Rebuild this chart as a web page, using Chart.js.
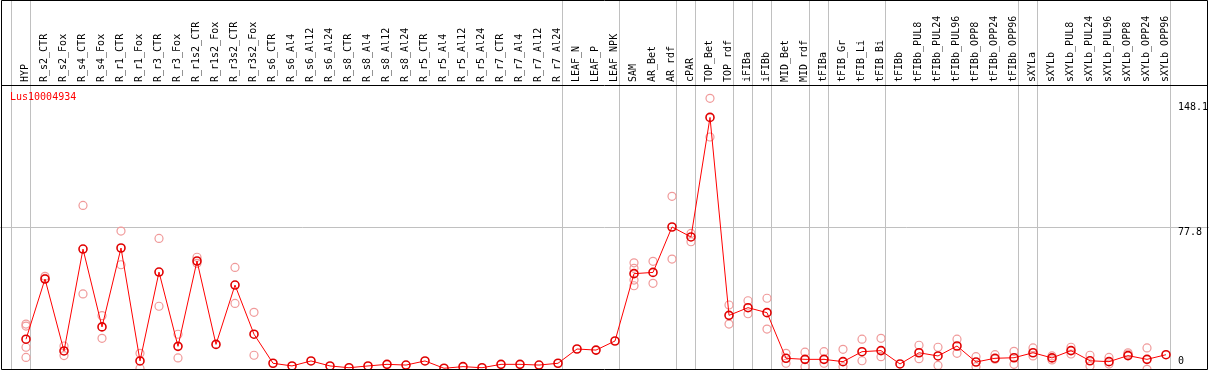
<!DOCTYPE html>
<html>
<head>
<meta charset="utf-8">
<script src="https://cdn.jsdelivr.net/npm/chart.js@4/dist/chart.umd.min.js"></script>
<style>
html,body{margin:0;padding:0;background:#fff;}
#wrap{position:relative;width:1209px;height:370px;}
</style>
</head>
<body>
<div id="wrap"><canvas id="c" width="1209" height="370"></canvas></div>
<script>
// ---- data ----
const geneName = "Lus10004934";
const categories = ["HYP","R_s2_CTR","R_s2_Fox","R_s4_CTR","R_s4_Fox","R_r1_CTR","R_r1_Fox","R_r3_CTR","R_r3_Fox","R_r1s2_CTR","R_r1s2_Fox","R_r3s2_CTR","R_r3s2_Fox","R_s6_CTR","R_s6_Al4","R_s6_Al12","R_s6_Al24","R_s8_CTR","R_s8_Al4","R_s8_Al12","R_s8_Al24","R_r5_CTR","R_r5_Al4","R_r5_Al12","R_r5_Al24","R_r7_CTR","R_r7_Al4","R_r7_Al12","R_r7_Al24","LEAF_N","LEAF_P","LEAF_NPK","SAM","AR_Bet","AR_rdf","cPAR","TOP_Bet","TOP_rdf","iFIBa","iFIBb","MID_Bet","MID_rdf","tFIBa","tFIB_Gr","tFIB_Li","tFIB_Bi","tFIBb","tFIBb_PUL8","tFIBb_PUL24","tFIBb_PUL96","tFIBb_OPP8","tFIBb_OPP24","tFIBb_OPP96","sXYLa","sXYLb","sXYLb_PUL8","sXYLb_PUL24","sXYLb_PUL96","sXYLb_OPP8","sXYLb_OPP24","sXYLb_OPP96"];
const meanValues = [15.2,49.0,8.6,65.8,22.1,66.4,3.0,52.9,11.2,59.1,12.3,45.6,18.0,1.7,0.2,3.0,0.2,-0.8,0.2,1.1,0.7,3.0,-1.1,-0.2,-0.8,1.1,1.1,0.7,1.7,9.7,9.1,14.2,52.0,52.7,78.2,72.6,139.7,28.6,32.9,30.1,4.5,3.9,3.9,2.6,8.2,8.8,1.3,7.6,5.8,11.4,2.4,4.5,4.8,7.6,4.7,8.8,3.1,2.6,6.0,3.9,6.5];
const replicate1 = [23.7,50.5,11.4,90.3,28.4,75.9,7.3,71.8,18.0,61.2,null,55.5,30.3,null,null,null,null,null,null,null,null,null,null,null,null,null,null,null,null,null,null,null,58.1,58.9,95.4,74.6,150.4,34.4,36.8,38.2,7.3,7.9,8.2,9.5,15.2,15.7,null,11.8,10.7,15.2,5.4,6.5,8.4,10.3,5.8,10.7,6.2,5.0,7.6,10.3,null];
const replicate2 = [22.6,49.3,6.0,40.6,15.7,57.0,-1.2,33.7,4.7,57.8,null,35.3,6.2,null,null,null,null,null,null,null,null,null,null,null,null,null,null,null,null,null,null,null,55.0,46.6,60.2,69.9,128.7,23.7,29.5,20.9,1.7,-0.2,1.7,-0.2,3.1,5.4,null,4.3,0.5,7.3,-0.2,4.0,1.1,5.8,3.6,6.9,0.2,1.3,6.9,-1.7,null];
const replicate3 = [10.7,null,null,null,null,null,null,null,null,null,null,null,null,null,null,null,null,null,null,null,null,null,null,null,null,null,null,null,null,null,null,null,48.4,null,null,null,null,null,null,null,null,null,null,null,null,null,null,null,null,null,null,null,null,null,null,null,null,null,null,null,null];
const replicate4 = [5.0,null,null,null,null,null,null,null,null,null,null,null,null,null,null,null,null,null,null,null,null,null,null,null,null,null,null,null,null,null,null,null,45.2,null,null,null,null,null,null,null,null,null,null,null,null,null,null,null,null,null,null,null,null,null,null,null,null,null,null,null,null];
const yTickValues = [0, 77.8, 148.1];
const groupEndsAfter = [-1, 0, 28, 31, 34, 35, 37, 38, 39, 41, 42, 45, 52, 53, 60];

// ---- build ----
const toPts = arr => arr.map((v, i) => ({x: i, y: v}));
const FONT = "'DejaVu Sans Mono', monospace";
const repStyle = {
  type: 'line', showLine: false, pointRadius: 4, pointBorderWidth: 1.2,
  pointBorderColor: '#f09a9a', pointBackgroundColor: 'rgba(0,0,0,0)', order: 2
};
const zeroPad = s => { s.paddingLeft = 0; s.paddingRight = 0; s.paddingTop = 0; s.paddingBottom = 0; };

const framePlugin = {
  id: 'frame',
  beforeDatasetsDraw(chart) {
    const ctx = chart.ctx, xs = chart.scales.x;
    ctx.save();
    ctx.strokeStyle = '#c0c0c0';
    ctx.lineWidth = 1;
    groupEndsAfter.forEach(g => {
      const px = Math.round(xs.getPixelForValue(g + 0.23)) + 0.5;
      ctx.beginPath(); ctx.moveTo(px, 0); ctx.lineTo(px, 370); ctx.stroke();
    });
    ctx.restore();
  },
  afterDraw(chart) {
    const ctx = chart.ctx, ys = chart.scales.y;
    ctx.save();
    ctx.strokeStyle = '#000'; ctx.lineWidth = 1;
    ctx.beginPath();
    ctx.moveTo(1.5, 0.5); ctx.lineTo(1207.5, 0.5); ctx.lineTo(1207.5, 369.5); ctx.lineTo(1.5, 369.5); ctx.closePath();
    ctx.moveTo(1.5, 85.5); ctx.lineTo(1207.5, 85.5);
    ctx.stroke();
    ctx.font = "10px " + FONT;
    ctx.fillStyle = '#000';
    ctx.textAlign = 'left';
    ctx.textBaseline = 'middle';
    yTickValues.forEach(v => {
      const py = ys.getPixelForValue(v);
      ctx.fillText(String(v), 1178, v === 0 ? py - 4.6 : py + 4.5);
    });
    ctx.fillStyle = '#ff0000';
    ctx.fillText(geneName, 10, 97.5);
    ctx.restore();
  }
};

new Chart(document.getElementById('c'), {
  type: 'line',
  data: {
    datasets: [
      {label: 'mean', data: toPts(meanValues), borderColor: '#ff0000', borderWidth: 1,
       pointRadius: 4, pointBorderWidth: 1.6, pointBorderColor: '#e00000',
       pointBackgroundColor: 'rgba(0,0,0,0)', tension: 0, order: 0},
      Object.assign({label: 'r1', data: toPts(replicate1)}, repStyle),
      Object.assign({label: 'r2', data: toPts(replicate2)}, repStyle),
      Object.assign({label: 'r3', data: toPts(replicate3)}, repStyle),
      Object.assign({label: 'r4', data: toPts(replicate4)}, repStyle)
    ]
  },
  options: {
    responsive: false,
    devicePixelRatio: 1,
    animation: false,
    layout: {padding: 0, autoPadding: false},
    plugins: {legend: {display: false}, tooltip: {enabled: false}, title: {display: false}},
    scales: {
      x: {
        type: 'linear', position: 'top',
        min: -26 / 19, max: -26 / 19 + 1209 / 19,
        afterBuildTicks: s => { s.ticks = categories.map((c, i) => ({value: i})); },
        afterFit: s => { s.height = 85; zeroPad(s); },
        grid: {display: false, drawTicks: false},
        border: {display: false},
        ticks: {
          autoSkip: false, minRotation: 90, maxRotation: 90, padding: 3, labelOffset: 11,
          color: '#000', font: {family: FONT, size: 10},
          callback: v => categories[v] ?? ''
        }
      },
      y: {
        type: 'linear', position: 'right',
        min: -2.08, max: 157.9,
        afterBuildTicks: s => { s.ticks = yTickValues.map(v => ({value: v})); },
        afterFit: s => { s.width = 0; zeroPad(s); },
        grid: {drawTicks: false, color: c => (c.tick && c.tick.value === 77.8) ? '#c0c0c0' : 'rgba(0,0,0,0)'},
        border: {display: false},
        ticks: {display: false}
      }
    }
  },
  plugins: [framePlugin]
});
</script>
</body>
</html>
